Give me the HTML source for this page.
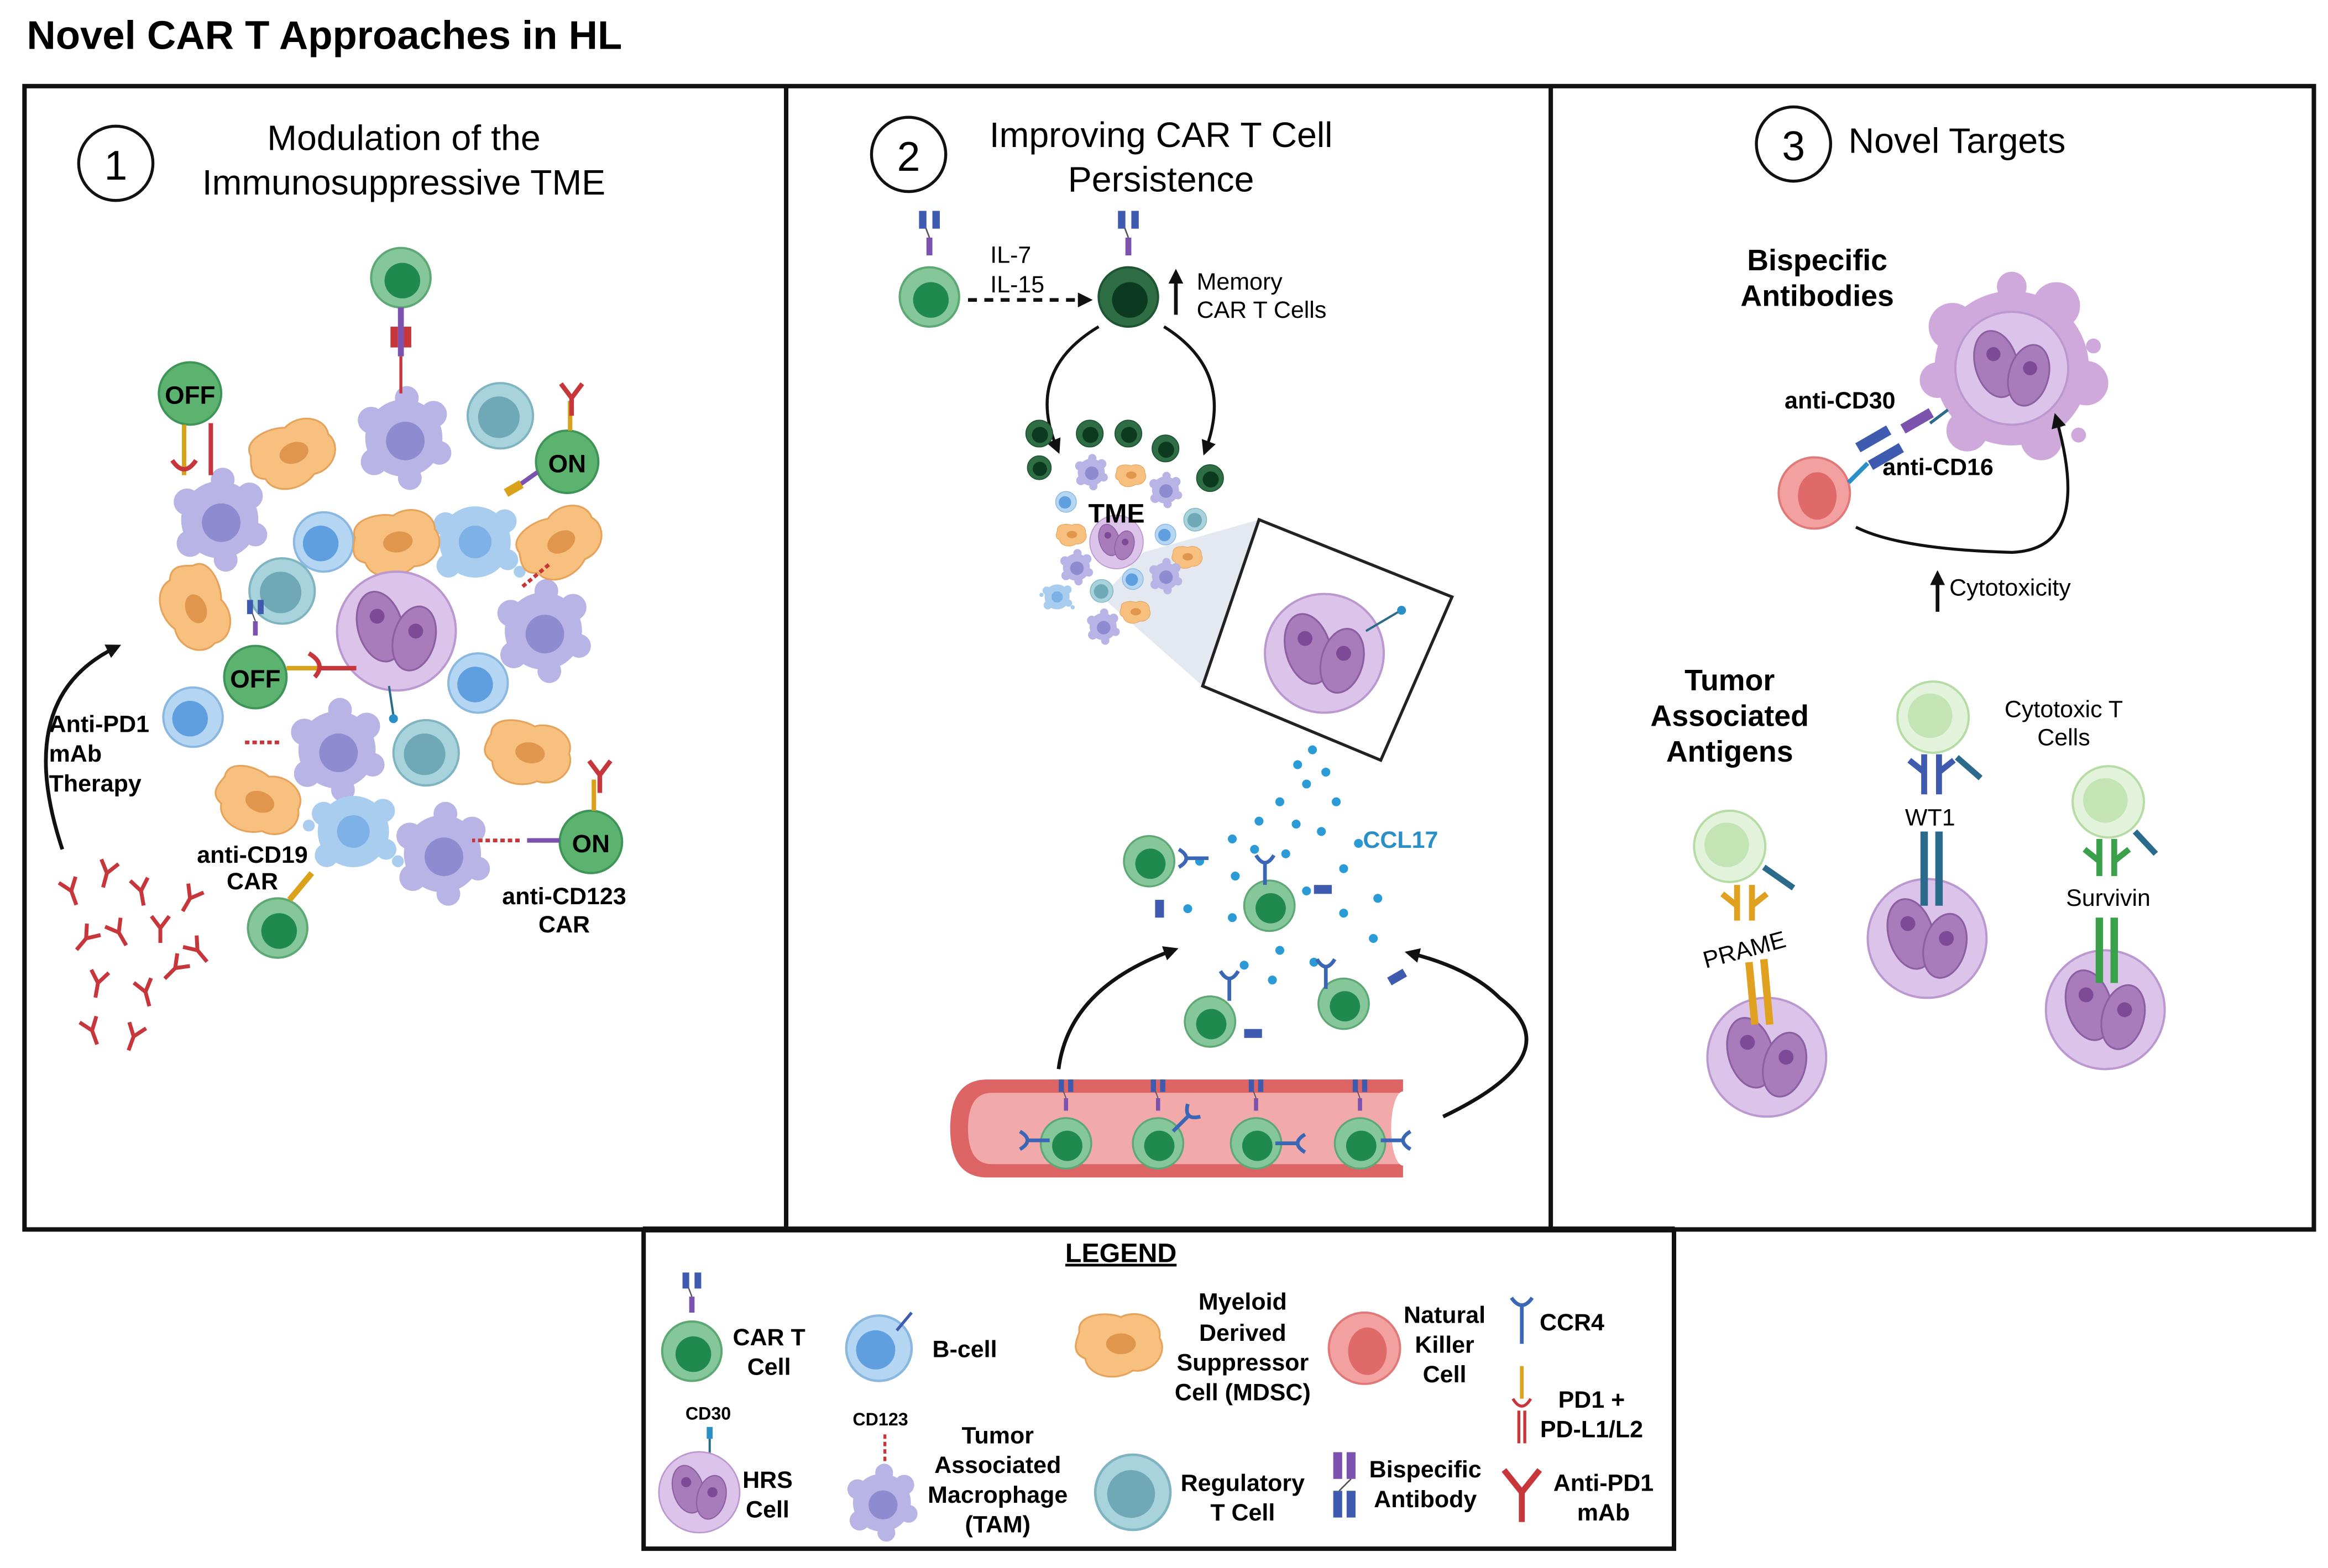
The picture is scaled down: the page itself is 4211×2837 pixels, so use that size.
<!DOCTYPE html>
<html><head><meta charset="utf-8"><style>
html,body{margin:0;padding:0;background:#fff;}
svg{display:block;}
text{font-family:"Liberation Sans",Arial,sans-serif;}
.b{font-weight:bold;}
</style></head><body>
<svg width="4211" height="2837" viewBox="0 0 1568 1056" preserveAspectRatio="none" xmlns="http://www.w3.org/2000/svg">
<defs>
<marker id="ah" markerWidth="10" markerHeight="10" refX="6" refY="5" orient="auto" markerUnits="userSpaceOnUse"><path d="M0,0 L10,5 L0,10 Z" fill="#111"/></marker>
<g id="cart"><circle r="20" fill="#86c79a" stroke="#5ea875" stroke-width="1.5"/><circle r="12" cx="1" cy="2" fill="#1f8a4c"/></g>
<g id="dcart"><circle r="20" fill="#2f6d45" stroke="#1e5533" stroke-width="1.5"/><circle r="12" cx="1" cy="2" fill="#0c3a20"/></g>
<g id="car"><rect x="-2" y="-22" width="4" height="12" fill="#7b52ad"/><path d="M0,-22 L-3,-30" stroke="#555" stroke-width="1" fill="none"/><rect x="-7" y="-40" width="5" height="12" fill="#3e5bb0"/><rect x="2" y="-40" width="5" height="12" fill="#3e5bb0"/></g>
<g id="bcell"><circle r="20" fill="#b5d6f2" stroke="#8ab8e0" stroke-width="1.5"/><circle r="12" cx="-2" cy="1" fill="#5f9fe0"/></g>
<g id="treg"><circle r="22" fill="#a9d3dc" stroke="#7fb5c2" stroke-width="1.5"/><circle r="14" cx="-1" cy="1" fill="#6fa9b8"/></g>
<g id="nk"><circle r="24" fill="#f2a0a0" stroke="#e07a7a" stroke-width="1.5"/><ellipse rx="13" ry="16" cx="2" cy="2" fill="#e06a6a"/></g>
<g id="ctl"><circle r="24" fill="#e3f3db" stroke="#b5dca5" stroke-width="1.5"/><circle r="15" cx="-2" cy="-1" fill="#c3e5b5"/></g>
<g id="mdsc"><path d="M-28,-8 C-30,-20 -10,-22 0,-18 C12,-24 28,-16 26,-4 C32,6 22,20 8,18 C-4,26 -22,22 -24,10 C-34,6 -30,-2 -28,-8Z" fill="#f7c07f" stroke="#e6a35c" stroke-width="1.2"/><ellipse rx="10" ry="7" cx="0" cy="0" fill="#e0964c"/></g>
<g id="tam"><circle r="26" fill="#b8b4e6"/><circle cx="-22" cy="-12" r="9" fill="#b8b4e6"/><circle cx="20" cy="-16" r="9" fill="#b8b4e6"/><circle cx="24" cy="10" r="8" fill="#b8b4e6"/><circle cx="-20" cy="16" r="9" fill="#b8b4e6"/><circle cx="2" cy="-27" r="8" fill="#b8b4e6"/><circle cx="4" cy="27" r="8" fill="#b8b4e6"/><circle r="13" cx="1" cy="2" fill="#8f8bd0"/></g>
<g id="mac"><circle r="24" fill="#a9cdef"/><circle cx="-20" cy="-12" r="8" fill="#a9cdef"/><circle cx="20" cy="-14" r="8" fill="#a9cdef"/><circle cx="22" cy="12" r="7" fill="#a9cdef"/><circle cx="-18" cy="16" r="8" fill="#a9cdef"/><circle cx="30" cy="20" r="4" fill="#a9cdef"/><circle cx="-30" cy="-4" r="4" fill="#a9cdef"/><circle r="11" fill="#7eb2e6"/></g>
<g id="hrs"><circle r="40" fill="#dcc3ea" stroke="#bb98d0" stroke-width="1.5"/><ellipse cx="-11" cy="-3" rx="15" ry="24" transform="rotate(-15 -11 -3)" fill="#a87bbb" stroke="#8c5fa3" stroke-width="1.2"/><ellipse cx="12" cy="5" rx="14" ry="22" transform="rotate(15 12 5)" fill="#a87bbb" stroke="#8c5fa3" stroke-width="1.2"/><circle cx="-13" cy="-10" r="5" fill="#7c4a96"/><circle cx="13" cy="0" r="5" fill="#7c4a96"/></g>
<g id="ab"><path d="M0,10 V0 L-6,-8 M0,0 L6,-8" stroke="#c6363a" stroke-width="2.6" fill="none"/></g>
<g id="ccr"><path d="M0,0 V14 M-6,-6 Q0,4 6,-6" stroke="#3a66b6" stroke-width="2.5" fill="none"/></g>
</defs>

<text x="18" y="33" font-size="27" class="b">Novel CAR T Approaches in HL</text>

<rect x="16.5" y="58" width="1542" height="770" fill="none" stroke="#111" stroke-width="3"/>
<line x1="529.5" y1="58" x2="529.5" y2="828" stroke="#111" stroke-width="3"/>
<line x1="1044.5" y1="58" x2="1044.5" y2="828" stroke="#111" stroke-width="3"/>

<!-- PANEL 1 -->
<circle cx="78" cy="110" r="25" fill="none" stroke="#111" stroke-width="2"/>
<text x="78" y="121" font-size="28" text-anchor="middle">1</text>
<text x="272" y="101" font-size="24" text-anchor="middle">Modulation of the</text>
<text x="272" y="131" font-size="24" text-anchor="middle">Immunosuppressive TME</text>

<use href="#tam" transform="translate(272,295)"/>
<use href="#tam" transform="translate(148,350)"/>
<use href="#tam" transform="translate(227,505)"/>
<use href="#tam" transform="translate(298,575)"/>
<use href="#tam" transform="translate(366,425)"/>
<use href="#mac" transform="translate(320,365)"/>
<use href="#mac" transform="translate(238,560)"/>
<use href="#treg" transform="translate(337,280)"/>
<use href="#treg" transform="translate(190,398)"/>
<use href="#treg" transform="translate(287,507)"/>
<use href="#bcell" transform="translate(218,365)"/>
<use href="#bcell" transform="translate(322,460)"/>
<use href="#bcell" transform="translate(130,483)"/>
<use href="#mdsc" transform="translate(198,305) rotate(-20)"/>
<use href="#mdsc" transform="translate(268,365) rotate(-10)"/>
<use href="#mdsc" transform="translate(378,365) rotate(-30)"/>
<use href="#mdsc" transform="translate(132,410) rotate(70)"/>
<use href="#mdsc" transform="translate(357,507) rotate(10)"/>
<use href="#mdsc" transform="translate(175,540) rotate(20)"/>
<use href="#hrs" transform="translate(267,425)"/>
<line x1="262" y1="462" x2="265" y2="482" stroke="#2a6a8a" stroke-width="1.5"/><circle cx="265" cy="484" r="3" fill="#2a8fc6"/>

<use href="#cart" transform="translate(270,187)"/>
<path d="M270,207 V240" stroke="#7b52ad" stroke-width="4"/>
<rect x="263" y="220" width="5" height="14" fill="#c6363a"/><rect x="272" y="220" width="5" height="14" fill="#c6363a"/>
<line x1="270" y1="240" x2="270" y2="265" stroke="#c6363a" stroke-width="2"/>
<circle cx="128" cy="265" r="21" fill="#5cb36f" stroke="#3f9457" stroke-width="1.5"/><text x="128" y="272" font-size="17" class="b" text-anchor="middle">OFF</text>
<path d="M124,286 V320" stroke="#d9a21a" stroke-width="3"/><path d="M116,310 Q124,322 132,310" stroke="#c6363a" stroke-width="3" fill="none"/>
<path d="M142,285 V320" stroke="#c6363a" stroke-width="3"/>
<circle cx="172" cy="456" r="21" fill="#5cb36f" stroke="#3f9457" stroke-width="1.5"/><text x="172" y="463" font-size="17" class="b" text-anchor="middle">OFF</text>
<path d="M193,450 H215" stroke="#d9a21a" stroke-width="3"/><path d="M208,440 Q220,447 212,456 M215,450 H240" stroke="#c6363a" stroke-width="3" fill="none"/>
<use href="#car" transform="translate(172,436) scale(0.8)"/>
<circle cx="382" cy="311" r="21" fill="#5cb36f" stroke="#3f9457" stroke-width="1.5"/><text x="382" y="318" font-size="17" class="b" text-anchor="middle">ON</text>
<path d="M384,290 V270" stroke="#d9a21a" stroke-width="3"/><use href="#ab" transform="translate(385,268) scale(1.2)"/>
<path d="M362,318 L345,330" stroke="#7b52ad" stroke-width="3"/><rect x="340" y="326" width="12" height="6" fill="#d9a21a" transform="rotate(-30 346 329)"/>
<circle cx="398" cy="567" r="21" fill="#5cb36f" stroke="#3f9457" stroke-width="1.5"/><text x="398" y="574" font-size="17" class="b" text-anchor="middle">ON</text>
<path d="M400,546 V525" stroke="#d9a21a" stroke-width="3"/><use href="#ab" transform="translate(404,522) scale(1.2)"/>
<path d="M377,566 H355" stroke="#7b52ad" stroke-width="3"/><path d="M350,566 H318" stroke="#c6363a" stroke-width="2.5" stroke-dasharray="3,2"/>
<use href="#cart" transform="translate(187,625)"/>
<path d="M195,606 L210,588" stroke="#d9a21a" stroke-width="4"/>
<path d="M352,395 L370,380" stroke="#c6363a" stroke-width="2.5" stroke-dasharray="3,2"/>
<path d="M165,500 H190" stroke="#c6363a" stroke-width="2.5" stroke-dasharray="3,2"/>
<text x="170" y="581" font-size="16" class="b" text-anchor="middle">anti-CD19</text>
<text x="170" y="599" font-size="16" class="b" text-anchor="middle">CAR</text>
<text x="380" y="609" font-size="16" class="b" text-anchor="middle">anti-CD123</text>
<text x="380" y="628" font-size="16" class="b" text-anchor="middle">CAR</text>
<text x="33" y="493" font-size="16" class="b">Anti-PD1</text>
<text x="33" y="513" font-size="16" class="b">mAb</text>
<text x="33" y="533" font-size="16" class="b">Therapy</text>
<path d="M42,572 Q8,470 78,436" stroke="#111" stroke-width="2.5" fill="none" marker-end="url(#ah)"/>
<use href="#ab" transform="translate(48,600) rotate(-20)"/>
<use href="#ab" transform="translate(72,588) rotate(15)"/>
<use href="#ab" transform="translate(95,600) rotate(-10)"/>
<use href="#ab" transform="translate(128,605) rotate(30)"/>
<use href="#ab" transform="translate(58,632) rotate(40)"/>
<use href="#ab" transform="translate(80,628) rotate(-30)"/>
<use href="#ab" transform="translate(108,625) rotate(0)"/>
<use href="#ab" transform="translate(133,640) rotate(-40)"/>
<use href="#ab" transform="translate(66,662) rotate(10)"/>
<use href="#ab" transform="translate(98,668) rotate(-15)"/>
<use href="#ab" transform="translate(118,652) rotate(45)"/>
<use href="#ab" transform="translate(62,694) rotate(-20)"/>
<use href="#ab" transform="translate(90,698) rotate(20)"/>

<!-- PANEL 2 -->
<circle cx="612" cy="104" r="25" fill="none" stroke="#111" stroke-width="2"/>
<text x="612" y="115" font-size="28" text-anchor="middle">2</text>
<text x="782" y="99" font-size="24" text-anchor="middle">Improving CAR T Cell</text>
<text x="782" y="129" font-size="24" text-anchor="middle">Persistence</text>
<use href="#cart" transform="translate(626,200)"/><use href="#car" transform="translate(626,182)"/>
<text x="667" y="177" font-size="16">IL-7</text>
<text x="667" y="197" font-size="16">IL-15</text>
<path d="M652,202 H732" stroke="#111" stroke-width="2.5" stroke-dasharray="6,5" marker-end="url(#ah)"/>
<use href="#dcart" transform="translate(760,200)"/><use href="#car" transform="translate(760,182)"/>
<path d="M792,212 V185" stroke="#111" stroke-width="2.5" marker-end="url(#ah)"/>
<text x="806" y="195" font-size="16">Memory</text>
<text x="806" y="214" font-size="16">CAR T Cells</text>
<path d="M740,220 Q690,250 712,302" stroke="#111" stroke-width="2" fill="none" marker-end="url(#ah)"/>
<path d="M784,220 Q832,250 812,303" stroke="#111" stroke-width="2" fill="none" marker-end="url(#ah)"/>
<polygon points="770,372 848,350 810,462 742,402" fill="#dde3ee" opacity="0.8"/>
<polygon points="848,350 978,402 930,512 810,462" fill="#fff" stroke="#222" stroke-width="2"/>
<use href="#hrs" transform="translate(892,440)"/>
<line x1="920" y1="425" x2="942" y2="412" stroke="#2a6a8a" stroke-width="1.5"/><circle cx="944" cy="411" r="3" fill="#2a8fc6"/>
<g transform="translate(700,292) scale(0.45)"><use href="#dcart"/></g>
<g transform="translate(734,292) scale(0.45)"><use href="#dcart"/></g>
<g transform="translate(760,292) scale(0.45)"><use href="#dcart"/></g>
<g transform="translate(785,302) scale(0.45)"><use href="#dcart"/></g>
<g transform="translate(815,322) scale(0.45)"><use href="#dcart"/></g>
<g transform="translate(700,315) scale(0.4)"><use href="#dcart"/></g>
<g transform="translate(735,318) scale(0.35)"><use href="#tam"/></g>
<g transform="translate(762,320) scale(0.35)"><use href="#mdsc"/></g>
<g transform="translate(718,338) scale(0.35)"><use href="#bcell"/></g>
<g transform="translate(785,330) scale(0.35)"><use href="#tam"/></g>
<g transform="translate(805,350) scale(0.35)"><use href="#treg"/></g>
<g transform="translate(722,360) scale(0.35)"><use href="#mdsc"/></g>
<g transform="translate(752,365) scale(0.45)"><use href="#hrs"/></g>
<g transform="translate(785,360) scale(0.35)"><use href="#bcell"/></g>
<g transform="translate(800,375) scale(0.35)"><use href="#mdsc"/></g>
<g transform="translate(725,382) scale(0.35)"><use href="#tam"/></g>
<g transform="translate(763,390) scale(0.35)"><use href="#bcell"/></g>
<g transform="translate(785,388) scale(0.35)"><use href="#tam"/></g>
<g transform="translate(742,398) scale(0.35)"><use href="#treg"/></g>
<g transform="translate(712,402) scale(0.35)"><use href="#mac"/></g>
<g transform="translate(765,412) scale(0.35)"><use href="#mdsc"/></g>
<g transform="translate(743,422) scale(0.35)"><use href="#tam"/></g>
<text x="752" y="352" font-size="18" class="b" text-anchor="middle">TME</text>
<g fill="#2a9bd6">
<circle cx="884" cy="505" r="3"/><circle cx="874" cy="515" r="3"/><circle cx="893" cy="520" r="3"/><circle cx="880" cy="528" r="3"/><circle cx="862" cy="540" r="3"/><circle cx="900" cy="540" r="3"/><circle cx="848" cy="553" r="3"/><circle cx="873" cy="555" r="3"/><circle cx="890" cy="560" r="3"/><circle cx="845" cy="572" r="3"/><circle cx="866" cy="575" r="3"/><circle cx="832" cy="590" r="3"/><circle cx="905" cy="585" r="3"/><circle cx="928" cy="605" r="3"/><circle cx="880" cy="600" r="3"/><circle cx="830" cy="618" r="3"/><circle cx="905" cy="615" r="3"/><circle cx="862" cy="640" r="3"/><circle cx="885" cy="648" r="3"/><circle cx="838" cy="650" r="3"/><circle cx="925" cy="632" r="3"/><circle cx="857" cy="660" r="3"/><circle cx="808" cy="580" r="3"/><circle cx="800" cy="612" r="3"/><circle cx="830" cy="565" r="3"/><circle cx="915" cy="568" r="3"/>
</g>
<text x="918" y="571" font-size="16" fill="#2a8fc6" class="b">CCL17</text>
<use href="#cart" transform="translate(774,580) scale(0.85)"/><use href="#ccr" transform="translate(800,578) rotate(-90)"/>
<use href="#cart" transform="translate(855,610) scale(0.85)"/><use href="#ccr" transform="translate(852,582)"/>
<use href="#cart" transform="translate(815,688) scale(0.85)"/><use href="#ccr" transform="translate(828,660)"/>
<use href="#cart" transform="translate(905,676) scale(0.85)"/><use href="#ccr" transform="translate(893,652)"/>
<rect x="885" y="596" width="12" height="6" fill="#3e5bb0"/><rect x="935" y="655" width="12" height="6" fill="#3e5bb0" transform="rotate(-30 941 658)"/><rect x="838" y="693" width="12" height="6" fill="#3e5bb0"/><rect x="778" y="606" width="6" height="12" fill="#3e5bb0"/>
<path d="M945,727 H665 Q640,727 640,760 Q640,793 665,793 H945 Z" fill="#dc6464"/>
<path d="M945,736 H668 Q652,736 652,760 Q652,784 668,784 H945 Z" fill="#f1a9a9"/>
<ellipse cx="945" cy="760" rx="8" ry="25" fill="#fff"/>
<use href="#cart" transform="translate(718,770) scale(0.85)"/><use href="#car" transform="translate(718,755) scale(0.7)"/><use href="#ccr" transform="translate(693,768) rotate(-90)"/>
<use href="#cart" transform="translate(780,770) scale(0.85)"/><use href="#car" transform="translate(780,755) scale(0.7)"/><use href="#ccr" transform="translate(800,752) rotate(45)"/>
<use href="#cart" transform="translate(846,770) scale(0.85)"/><use href="#car" transform="translate(846,755) scale(0.7)"/><use href="#ccr" transform="translate(873,770) rotate(90)"/>
<use href="#cart" transform="translate(916,770) scale(0.85)"/><use href="#car" transform="translate(916,755) scale(0.7)"/><use href="#ccr" transform="translate(944,768) rotate(90)"/>
<path d="M713,720 Q720,665 790,640" stroke="#111" stroke-width="2.5" fill="none" marker-end="url(#ah)"/>
<path d="M972,752 Q1060,710 1010,672 Q990,652 950,642" stroke="#111" stroke-width="2.5" fill="none" marker-end="url(#ah)"/>

<!-- PANEL 3 -->
<circle cx="1208" cy="97" r="25" fill="none" stroke="#111" stroke-width="2"/>
<text x="1208" y="108" font-size="28" text-anchor="middle">3</text>
<text x="1245" y="103" font-size="24">Novel Targets</text>
<text x="1224" y="182" font-size="20" class="b" text-anchor="middle">Bispecific</text>
<text x="1224" y="206" font-size="20" class="b" text-anchor="middle">Antibodies</text>
<g transform="translate(1355,248)">
<circle r="52" fill="#cfa9dc"/><circle cx="-40" cy="-28" r="16" fill="#cfa9dc"/><circle cx="30" cy="-42" r="16" fill="#cfa9dc"/><circle cx="50" cy="10" r="15" fill="#cfa9dc"/><circle cx="20" cy="48" r="14" fill="#cfa9dc"/><circle cx="-30" cy="42" r="14" fill="#cfa9dc"/><circle cx="-50" cy="8" r="12" fill="#cfa9dc"/><circle cx="0" cy="-55" r="10" fill="#cfa9dc"/><circle cx="55" cy="-15" r="5" fill="#cfa9dc"/><circle cx="45" cy="45" r="5" fill="#cfa9dc"/>
<g transform="scale(0.95)"><use href="#hrs"/></g></g>
<use href="#nk" transform="translate(1222,332)"/>
<rect x="1250" y="292" width="24" height="7" fill="#3e5bb0" transform="rotate(-30 1262 296)"/>
<rect x="1258" y="304" width="24" height="7" fill="#3e5bb0" transform="rotate(-30 1270 307)"/>
<rect x="1280" y="280" width="22" height="7" fill="#7b52ad" transform="rotate(-30 1291 283)"/>
<path d="M1245,325 L1258,312" stroke="#2a8fc6" stroke-width="3"/>
<path d="M1300,285 L1312,276" stroke="#2a6a8a" stroke-width="2"/>
<text x="1202" y="275" font-size="16" class="b">anti-CD30</text>
<text x="1268" y="320" font-size="16" class="b">anti-CD16</text>
<path d="M1250,355 Q1280,370 1355,372 Q1410,370 1385,282" stroke="#111" stroke-width="2" fill="none" marker-end="url(#ah)"/>
<path d="M1305,412 V388" stroke="#111" stroke-width="2.5" marker-end="url(#ah)"/>
<text x="1313" y="401" font-size="16">Cytotoxicity</text>
<text x="1165" y="465" font-size="20" class="b" text-anchor="middle">Tumor</text>
<text x="1165" y="489" font-size="20" class="b" text-anchor="middle">Associated</text>
<text x="1165" y="513" font-size="20" class="b" text-anchor="middle">Antigens</text>
<text x="1390" y="483" font-size="16" text-anchor="middle">Cytotoxic T</text>
<text x="1390" y="502" font-size="16" text-anchor="middle">Cells</text>
<use href="#ctl" transform="translate(1302,483)"/>
<use href="#ctl" transform="translate(1420,540)"/>
<use href="#ctl" transform="translate(1165,570)"/>
<use href="#hrs" transform="translate(1298,632)"/>
<use href="#hrs" transform="translate(1418,680)"/>
<use href="#hrs" transform="translate(1190,712)"/>
<g stroke="#3e5bb0" stroke-width="4" fill="none"><path d="M1296,508 V535 M1306,508 V535 M1296,520 L1286,512 M1306,520 L1316,512"/></g>
<path d="M1318,510 L1334,524" stroke="#2a6a8a" stroke-width="4"/>
<g stroke="#2a6a8a" stroke-width="5" fill="none"><path d="M1296,560 V610 M1306,560 V610"/></g>
<g stroke="#3aa04a" stroke-width="4" fill="none"><path d="M1414,565 V590 M1424,565 V590 M1414,580 L1404,572 M1424,580 L1434,572"/></g>
<path d="M1438,560 L1452,575" stroke="#2a6a8a" stroke-width="4"/>
<g stroke="#3aa04a" stroke-width="5" fill="none"><path d="M1414,618 V662 M1424,618 V662"/></g>
<g stroke="#e0a020" stroke-width="4" fill="none"><path d="M1170,596 V620 M1180,596 V620 M1170,610 L1160,602 M1180,610 L1190,602"/></g>
<path d="M1188,584 L1208,598" stroke="#2a6a8a" stroke-width="4"/>
<g stroke="#e0a020" stroke-width="5" fill="none"><path d="M1178,648 L1182,690 M1188,646 L1192,690"/></g>
<text x="1300" y="556" font-size="16" text-anchor="middle">WT1</text>
<text x="1420" y="610" font-size="16" text-anchor="middle">Survivin</text>
<text x="1175" y="645" font-size="16" text-anchor="middle" transform="rotate(-15 1175 640)">PRAME</text>

<!-- LEGEND -->
<rect x="433.5" y="828" width="694" height="215" fill="#fff" stroke="#111" stroke-width="3"/>
<line x1="433" y1="828" x2="1128" y2="828" stroke="#111" stroke-width="4"/>
<text x="755" y="850" font-size="18" class="b" text-anchor="middle" text-decoration="underline">LEGEND</text>
<use href="#cart" transform="translate(466,910)"/><use href="#car" transform="translate(466,893) scale(0.9)"/>
<text x="518" y="906" font-size="16" class="b" text-anchor="middle">CAR T</text>
<text x="518" y="926" font-size="16" class="b" text-anchor="middle">Cell</text>
<use href="#bcell" transform="translate(592,908) scale(1.1)"/><path d="M604,896 L614,884" stroke="#3e5bb0" stroke-width="2"/>
<text x="628" y="914" font-size="16" class="b">B-cell</text>
<use href="#mdsc" transform="translate(755,905)"/>
<text x="837" y="882" font-size="16" class="b" text-anchor="middle">Myeloid</text>
<text x="837" y="903" font-size="16" class="b" text-anchor="middle">Derived</text>
<text x="837" y="923" font-size="16" class="b" text-anchor="middle">Suppressor</text>
<text x="837" y="943" font-size="16" class="b" text-anchor="middle">Cell (MDSC)</text>
<use href="#nk" transform="translate(919,908)"/>
<text x="973" y="891" font-size="16" class="b" text-anchor="middle">Natural</text>
<text x="973" y="911" font-size="16" class="b" text-anchor="middle">Killer</text>
<text x="973" y="931" font-size="16" class="b" text-anchor="middle">Cell</text>
<path d="M1025,880 V905 M1018,874 Q1025,884 1032,874" stroke="#3a66b6" stroke-width="2.5" fill="none"/>
<text x="1037" y="896" font-size="16" class="b">CCR4</text>
<path d="M1025,920 V942" stroke="#e0a020" stroke-width="2.5"/>
<path d="M1019,942 Q1025,952 1031,942 M1023,950 V972 M1027,950 V972" stroke="#c6363a" stroke-width="2" fill="none"/>
<text x="1072" y="948" font-size="16" class="b" text-anchor="middle">PD1 +</text>
<text x="1072" y="968" font-size="16" class="b" text-anchor="middle">PD-L1/L2</text>
<text x="477" y="956" font-size="12" class="b" text-anchor="middle">CD30</text>
<line x1="478" y1="962" x2="478" y2="990" stroke="#2a6a8a" stroke-width="1.5"/><rect x="476" y="961" width="4" height="8" fill="#2a8fc6"/>
<use href="#hrs" transform="translate(471,1005) scale(0.68)"/>
<text x="517" y="1002" font-size="16" class="b" text-anchor="middle">HRS</text>
<text x="517" y="1022" font-size="16" class="b" text-anchor="middle">Cell</text>
<text x="593" y="960" font-size="12" class="b" text-anchor="middle">CD123</text>
<line x1="596" y1="966" x2="596" y2="1000" stroke="#c6363a" stroke-width="2" stroke-dasharray="3,2"/>
<use href="#tam" transform="translate(594,1012) scale(0.75)"/>
<text x="672" y="972" font-size="16" class="b" text-anchor="middle">Tumor</text>
<text x="672" y="992" font-size="16" class="b" text-anchor="middle">Associated</text>
<text x="672" y="1012" font-size="16" class="b" text-anchor="middle">Macrophage</text>
<text x="672" y="1032" font-size="16" class="b" text-anchor="middle">(TAM)</text>
<use href="#treg" transform="translate(763,1005) scale(1.15)"/>
<text x="837" y="1004" font-size="16" class="b" text-anchor="middle">Regulatory</text>
<text x="837" y="1024" font-size="16" class="b" text-anchor="middle">T Cell</text>
<rect x="898" y="978" width="6" height="18" fill="#7b52ad"/><rect x="907" y="978" width="6" height="18" fill="#7b52ad"/>
<rect x="898" y="1004" width="6" height="18" fill="#3e5bb0"/><rect x="907" y="1004" width="6" height="18" fill="#3e5bb0"/>
<path d="M910,996 L902,1004" stroke="#555" stroke-width="1"/>
<text x="960" y="995" font-size="16" class="b" text-anchor="middle">Bispecific</text>
<text x="960" y="1015" font-size="16" class="b" text-anchor="middle">Antibody</text>
<path d="M1025,1025 V1005 L1013,990 M1025,1005 L1037,990" stroke="#c6363a" stroke-width="4" fill="none"/>
<text x="1080" y="1004" font-size="16" class="b" text-anchor="middle">Anti-PD1</text>
<text x="1080" y="1024" font-size="16" class="b" text-anchor="middle">mAb</text>
</svg>
</body></html>
